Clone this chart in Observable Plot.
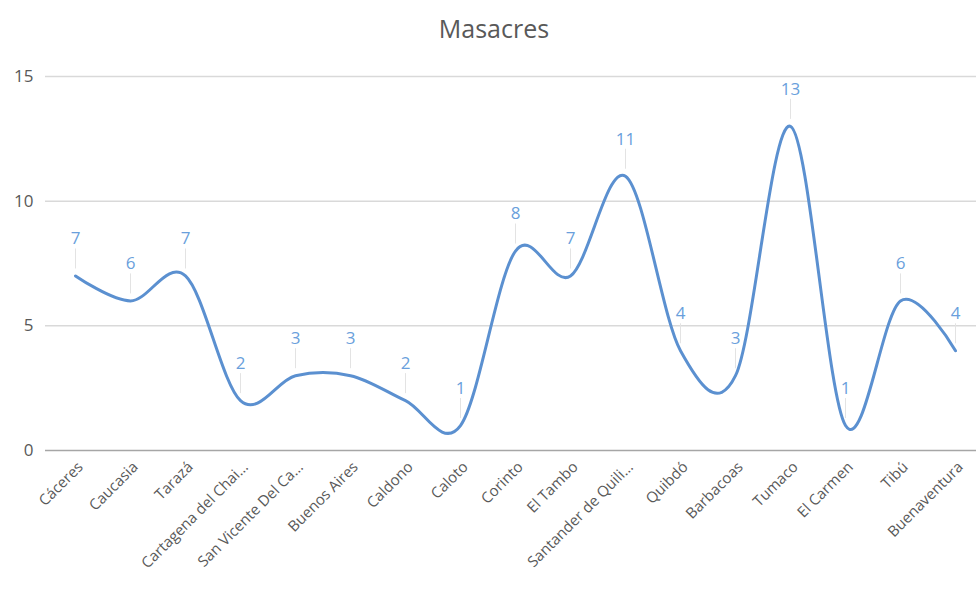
<!DOCTYPE html>
<html><head><meta charset="utf-8">
<script src="https://cdn.jsdelivr.net/npm/d3@7"></script>
<script src="https://cdn.jsdelivr.net/npm/@observablehq/plot@0.6"></script>
<style>
body{margin:0;background:#fff;font-family:"Open Sans","Noto Sans",sans-serif;}
#title{height:50px;text-align:center;font-size:25px;color:#595959;line-height:56px;padding-left:10px;}
</style></head><body>
<div id="title">Masacres</div>
<div id="chart"></div>
<script>
const municipios = ["Cáceres","Caucasia","Tarazá","Cartagena del Chai…","San Vicente Del Ca…","Buenos Aires","Caldono","Caloto","Corinto","El Tambo","Santander de Quili…","Quibdó","Barbacoas","Tumaco","El Carmen","Tibú","Buenaventura"];
const masacres = [7,6,7,2,3,3,2,1,8,7,11,4,3,13,1,6,4];
const yTicks = [0,5,10,15];

const data = municipios.map((m, i) => ({municipio: m, masacres: masacres[i]}));

const chart = Plot.plot({
  width: 978, height: 547,
  marginLeft: 70, marginRight: 19, marginTop: 26, marginBottom: 147,
  style: {color: "#595959", fontFamily: "'Open Sans','Noto Sans',sans-serif", background: "#fff"},
  x: {type: "point", domain: municipios, padding: 0},
  y: {domain: [0, 15]},
  marks: [
    Plot.ruleY(yTicks.filter(t => t > 0), {stroke: "#d9d9d9", strokeWidth: 1.5, insetLeft: -25, insetRight: -17}),
    Plot.ruleY([0], {stroke: "#a6a6a6", strokeWidth: 1.5, insetLeft: -25, insetRight: -17}),
    Plot.axisY({ticks: yTicks, tickSize: 0, tickPadding: 37, fontSize: 17, label: null}),
    Plot.axisX({tickRotate: -45, tickSize: 0, tickPadding: 14, dx: 5, fontSize: 15, label: null}),
    Plot.ruleX(data, {x: "municipio", y1: "masacres", y2: "masacres", insetTop: -27, insetBottom: 7, stroke: "#e3e3e3", strokeWidth: 1}),
    Plot.line(data, {x: "municipio", y: "masacres", curve: "cardinal", stroke: "#5b90d0", strokeWidth: 3}),
    Plot.text(data, {x: "municipio", y: "masacres", text: d => String(d.masacres), dy: -37, fill: "#6a9fdc", fontSize: 17})
  ]
});
document.getElementById("chart").append(chart);
</script>
</body></html>
